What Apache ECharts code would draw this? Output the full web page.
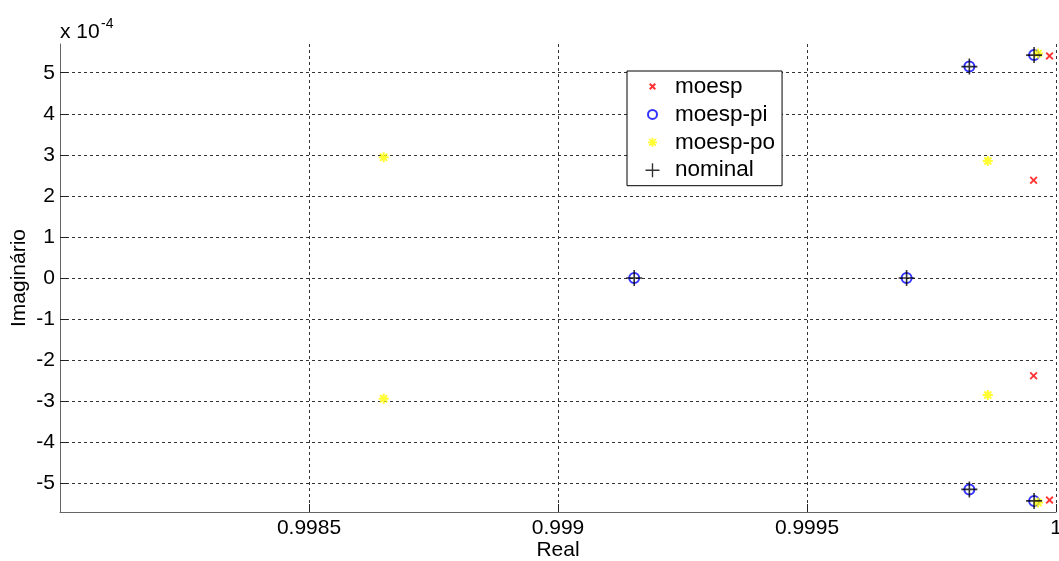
<!DOCTYPE html>
<html>
<head>
<meta charset="utf-8">
<script src="https://cdn.jsdelivr.net/npm/echarts@6/dist/echarts.min.js"></script>
<style>
html,body{margin:0;padding:0;background:#fff;}
#chart{width:1059px;height:561px;}
</style>
</head>
<body>
<div id="chart"></div>
<script>
// Data (imaginary part in units of 1e-4)
const seriesNames = ['moesp', 'moesp-pi', 'moesp-po', 'nominal'];
const moespRe = [0.999987, 0.999987, 0.999955, 0.999955];
const moespIm = [5.41, -5.41, 2.38, -2.38];
const moespPiRe = [0.999153, 0.999700, 0.999826, 0.999826, 0.999956, 0.999956];
const moespPiIm = [0, 0, 5.15, -5.15, 5.43, -5.43];
const moespPoRe = [0.998650, 0.998650, 0.999863, 0.999863, 0.999964, 0.999964];
const moespPoIm = [2.94, -2.94, 2.85, -2.85, 5.47, -5.47];
const nominalRe = [0.999153, 0.999700, 0.999826, 0.999826, 0.999956, 0.999956];
const nominalIm = [0, 0, 5.15, -5.15, 5.43, -5.43];
const xTickMin = 0.998, xTickMax = 1, xTickStep = 0.0005;
const yMin = -5.7, yMax = 5.7;

function pairs(xs, ys) { return xs.map((x, i) => [x, ys[i]]); }

const FONT = '"Liberation Sans", Arial, sans-serif';
const X_PATH = 'path://M7.83,0.76L9.24,2.17L6.41,5L9.24,7.83L7.83,9.24L5,6.41L2.17,9.24L0.76,7.83L3.59,5L0.76,2.17L2.17,0.76L5,3.59Z';
const STAR_PATH = 'path://M4,0L6,0L6,4L10,4L10,6L6,6L6,10L4,10L4,6L0,6L0,4L4,4Z' +
  'M7.83,0.76L9.24,2.17L6.41,5L9.24,7.83L7.83,9.24L5,6.41L2.17,9.24L0.76,7.83L3.59,5L0.76,2.17L2.17,0.76L5,3.59Z';
const PLUS_PATH = 'path://M7.2,0L8.8,0L8.8,7.2L16,7.2L16,8.8L8.8,8.8L8.8,16L7.2,16L7.2,8.8L0,8.8L0,7.2L7.2,7.2Z';

// legend icons padded in a 16x16 frame
const LEG_X = 'path://M0,0M16,16M10.1,4.5L11.5,5.9L9.4,8L11.5,10.1L10.1,11.5L8,9.4L5.9,11.5L4.5,10.1L6.6,8L4.5,5.9L5.9,4.5L8,6.6Z';
const LEG_O = 'path://M0,0M16,16M12.5,8A4.5,4.5,0,1,1,3.5,8A4.5,4.5,0,1,1,12.5,8Z';
const LEG_STAR = 'path://M0,0M16,16M7.1,3.5L8.9,3.5L8.9,7.1L12.5,7.1L12.5,8.9L8.9,8.9L8.9,12.5L7.1,12.5L7.1,8.9L3.5,8.9L3.5,7.1L7.1,7.1Z' +
  'M10.7,4.1L11.9,5.3L9.2,8L11.9,10.7L10.7,11.9L8,9.2L5.3,11.9L4.1,10.7L6.8,8L4.1,5.3L5.3,4.1L8,6.8Z';
const LEG_PLUS = 'path://M0,0M16,16M7.3,1L8.7,1L8.7,7.3L15,7.3L15,8.7L8.7,8.7L8.7,15L7.3,15L7.3,8.7L1,8.7L1,7.3L7.3,7.3Z';

const chart = echarts.init(document.getElementById('chart'), null, {renderer: 'canvas'});
chart.setOption({
  backgroundColor: '#fff',
  animation: false,
  textStyle: {fontFamily: FONT},
  grid: {left: 60, right: 3, top: 44, bottom: 49, containLabel: false, outerBoundsMode: 'none'},
  xAxis: {
    type: 'value', min: xTickMin, max: xTickMax, interval: xTickStep,
    name: 'Real', nameLocation: 'middle', nameGap: 28, nameMoveOverlap: false,
    nameTextStyle: {fontSize: 21, color: '#000', fontFamily: FONT},
    axisLine: {show: true, onZero: false, lineStyle: {color: '#666', width: 1}},
    axisTick: {show: true, inside: true, length: 8, lineStyle: {color: '#222'}},
    axisLabel: {fontSize: 21, color: '#000', margin: 6, showMinLabel: false, fontFamily: FONT},
    splitLine: {show: true, showMinLine: false, lineStyle: {color: '#333', type: [3, 3], width: 1}}
  },
  yAxis: {
    type: 'value', min: yMin, max: yMax, splitNumber: 11,
    name: 'Imaginário', nameLocation: 'middle', nameGap: 30, nameMoveOverlap: false,
    nameTextStyle: {fontSize: 21, color: '#000', fontFamily: FONT},
    axisLine: {show: true, onZero: false, lineStyle: {color: '#666', width: 1}},
    axisTick: {show: true, inside: true, length: 8, lineStyle: {color: '#222'}},
    axisLabel: {fontSize: 21, color: '#000', margin: 5, showMinLabel: false, showMaxLabel: false, fontFamily: FONT},
    splitLine: {show: true, showMinLine: false, showMaxLine: false, lineStyle: {color: '#333', type: [3, 3], width: 1}}
  },
  legend: {
    orient: 'vertical', left: 627, top: 71,
    backgroundColor: '#fff', borderColor: '#000', borderWidth: 1,
    padding: [4, 7, 4, 16.5],
    itemWidth: 35, itemHeight: 16, itemGap: 4.9,
    symbolKeepAspect: true,
    textStyle: {fontSize: 22.5, lineHeight: 22, color: '#000', fontFamily: FONT},
    data: [
      {name: seriesNames[0], icon: LEG_X},
      {name: seriesNames[1], icon: LEG_O},
      {name: seriesNames[2], icon: LEG_STAR},
      {name: seriesNames[3], icon: LEG_PLUS}
    ]
  },
  graphic: [
    {type: 'text', left: 60, top: 22, style: {text: 'x 10', font: '21px ' + FONT, fill: '#000'}},
    {type: 'text', left: 101, top: 17, style: {text: '-4', font: '14px ' + FONT, fill: '#000'}}
  ],
  series: [
    {name: seriesNames[0], type: 'scatter', data: pairs(moespRe, moespIm),
     symbol: X_PATH, symbolSize: 8, itemStyle: {color: '#ff0000'}},
    {name: seriesNames[1], type: 'scatter', data: pairs(moespPiRe, moespPiIm),
     symbol: 'circle', symbolSize: 10, itemStyle: {color: 'rgba(0,0,0,0)', borderColor: '#0000ff', borderWidth: 2}},
    {name: seriesNames[2], type: 'scatter', data: pairs(moespPoRe, moespPoIm),
     symbol: STAR_PATH, symbolSize: 10, itemStyle: {color: '#ffff00'}},
    {name: seriesNames[3], type: 'scatter', data: pairs(nominalRe, nominalIm),
     symbol: PLUS_PATH, symbolSize: 16, itemStyle: {color: '#000'}}
  ]
});
</script>
</body>
</html>
